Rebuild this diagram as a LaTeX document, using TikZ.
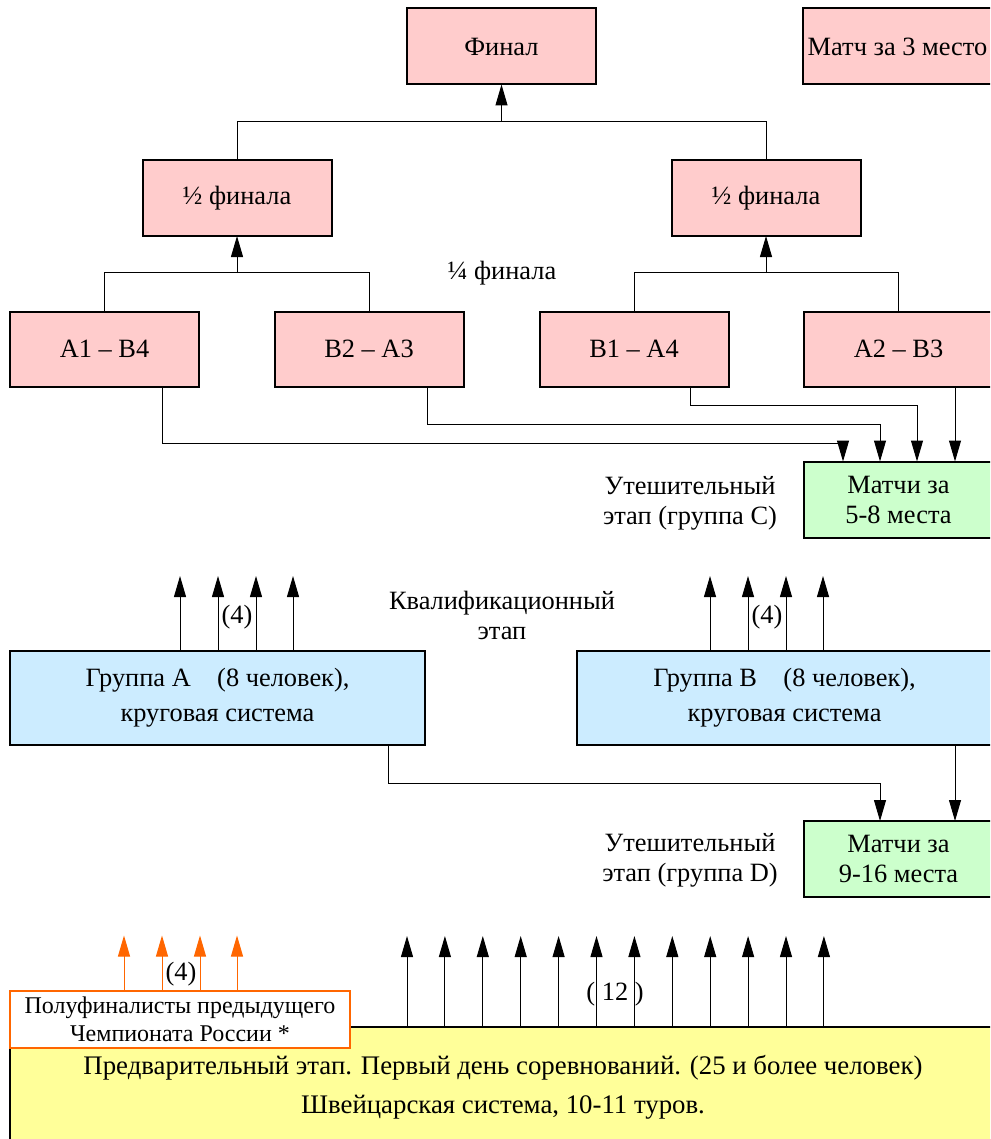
\documentclass[tikz,border=0pt]{standalone}
\usepackage{fontspec}
\setmainfont{Liberation Serif}
\usetikzlibrary{arrows.meta}
\usetikzlibrary{calc}

\definecolor{pinkfill}{HTML}{FFCCCC}
\definecolor{greenfill}{HTML}{CCFFCC}
\definecolor{bluefill}{HTML}{CCECFF}
\definecolor{yellowfill}{HTML}{FFFF99}
\definecolor{orangeline}{HTML}{FF6600}

\tikzset{
  every node/.style={font=\fontsize{13.2}{15}\selectfont},
  box/.style={draw, line width=1pt, inner sep=0pt, outer sep=0pt, align=center,
    minimum width=94.5pt, minimum height=38pt},
  pinkbox/.style={box, fill=pinkfill},
  greenbox/.style={box, fill=greenfill},
  groupbox/.style={box, fill=bluefill, minimum width=207.5pt, minimum height=47pt,
    font=\fontsize{13.2}{17.5}\selectfont},
  arr/.style={line width=0.5pt, -{Triangle[length=10.5pt,width=6pt]}},
  oarr/.style={arr, draw=orangeline, -{Triangle[length=10.5pt,width=6pt,fill=orangeline]}},
  lbl/.style={align=center}
}

\begin{document}
\begin{tikzpicture}[x=0.5pt,y=-0.5pt]
\useasboundingbox (0,0) rectangle (990,1139);
\clip (0,0) rectangle (990,1139);

	\node[pinkbox] (fin) at (501.5,46.5) {Финал};
	\node[pinkbox] (third) at (897.5,46.5) {Матч за 3 место};
	\node[pinkbox] (sfl) at (237,198) {½ финала};
	\node[pinkbox] (sfr) at (766,198) {½ финала};
	\node[lbl] (qlbl) at (502,273) {¼ финала};
	\node[pinkbox, minimum height=37.5pt] (qa) at (104.5,349) {A1 – B4};
	\node[pinkbox, minimum height=37.5pt] (qb) at (369,349) {B2 – A3};
	\node[pinkbox, minimum height=37.5pt] (qc) at (634,349) {B1 – A4};
	\node[pinkbox, minimum height=37.5pt] (qd) at (898.5,349) {A2 – B3};
	\node[greenbox] (grc) at (898.5,499.5) {Матчи за\\5-8 места};
	\node[lbl] (lblc) at (690,503) {Утешительный\\этап (группа С)};
	\node[lbl] (qual) at (502,615) {Квалификационный\\этап};
	\node[groupbox] (ga) at (217.5,698) {Группа А\quad(8 человек),\\круговая система};
	\node[groupbox] (gb) at (784.5,698) {Группа В\quad(8 человек),\\круговая система};
	\node[greenbox] (grd) at (898.5,859) {Матчи за\\9-16 места};
	\node[lbl] (lbld) at (690,860) {Утешительный\\этап (группа D)};
	\node[box, fill=yellowfill, minimum width=493pt, minimum height=60pt,
	  font=\fontsize{13.4}{19.5}\selectfont] (prelim) at (503,1087)
	  {Предварительный этап. Первый день соревнований. (25 и более человек)\\Швейцарская система, 10-11 туров.};
	\node[box, draw=orangeline, fill=white, minimum width=170pt, minimum height=28.5pt,
	  font=\fontsize{12}{14}\selectfont] (semi) at (180,1019)
	  {Полуфиналисты предыдущего\\Чемпионата России *};

\draw[line width=0.5pt] (sfl.north) -- ++(0,-38) -| (sfr.north);
\draw[arr] ($(fin.south)+(0,37.5)$) -- (fin.south);
\draw[line width=0.5pt] (qa.north) -- ++(0,-39) -| (qb.north);
\draw[arr] ($(sfl.south)+(0,37)$) -- (sfl.south);
\draw[line width=0.5pt] (qc.north) -- ++(0,-39) -| (qd.north);
\draw[arr] ($(sfr.south)+(0,37)$) -- (sfr.south);

\draw[arr] ($(qa.south)+(57.5,0)$) -- ++(0,57) -| ($(grc.north)+(-55.5,0)$);
\draw[arr] ($(qb.south)+(58,0)$) -- ++(0,38) -| ($(grc.north)+(-18.5,0)$);
\draw[arr] ($(qc.south)+(56,0)$) -- ++(0,19) -| ($(grc.north)+(18.5,0)$);
\draw[arr] ($(qd.south)+(56.5,0)$) -- ($(grc.north)+(56.5,0)$);

\foreach \dx in {-37.5,0.5,38.5,75.5}
  \draw[arr] ($(ga.north)+(\dx,0)$) -- ++(0,-75);
\foreach \dx in {-74.5,-36.5,1.5,38.5}
  \draw[arr] ($(gb.north)+(\dx,0)$) -- ++(0,-75);
\node (fa) at (237,617) {(4)};
\node (fb) at (767,617) {(4)};

\draw[arr] ($(ga.south)+(170.5,0)$) -- ++(0,38) -| ($(grd.north)+(-18.5,0)$);
\draw[arr] ($(gb.south)+(170.5,0)$) -- ($(grd.north)+(56.5,0)$);

\foreach \dx in {-56,-18,20,57}
  \draw[oarr] ($(semi.north)+(\dx,0)$) -- ++(0,-55);
\node (fs) at (181,974) {(4)};
\foreach \i in {0,...,11}
  \draw[arr] ($(prelim.north)+(-96+37.9*\i,0)$) -- ++(0,-91);
\node (ft) at (615,994) {( 12 )};
\end{tikzpicture}
\end{document}
